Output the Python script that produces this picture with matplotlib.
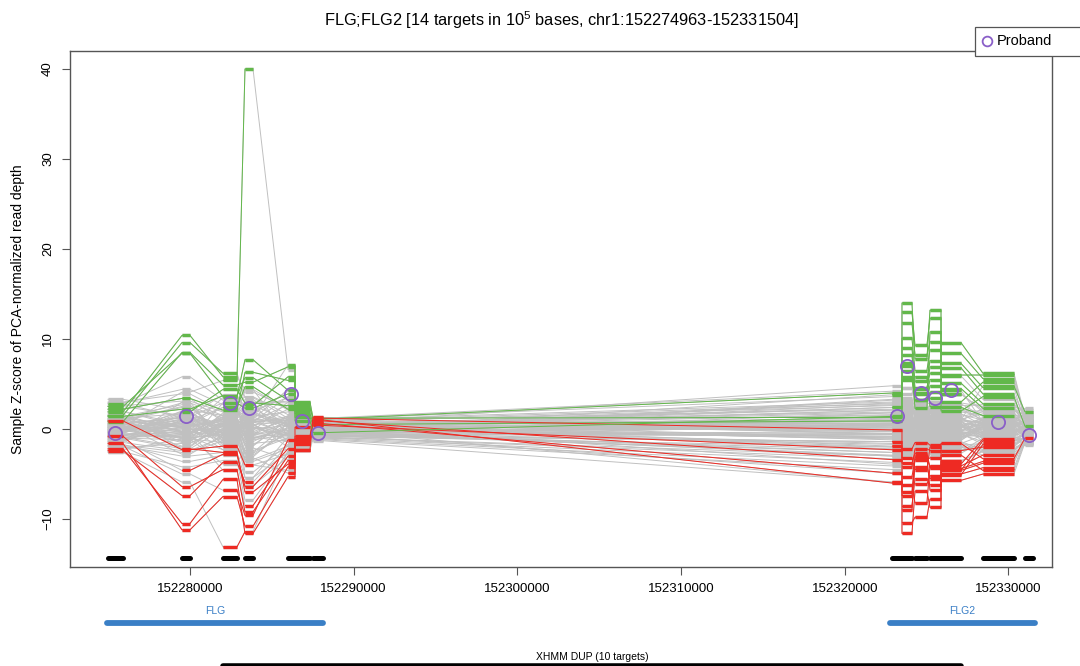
#%% Initializing
import numpy as np
import matplotlib
matplotlib.use('Agg')
import matplotlib.pyplot as plt
from matplotlib.patches import Rectangle
from matplotlib.ticker import FuncFormatter

plt.rcParams['font.family'] = ['Liberation Sans', 'DejaVu Sans']
plt.rcParams['mathtext.fontset'] = 'custom'
plt.rcParams['mathtext.rm'] = 'Liberation Sans'

#%% Data
region = 'chr1:152274963-152331504'
target_start = [152274963, 152279510, 152282015, 152283360, 152285985, 152286415, 152287515,
                152322885, 152323495, 152324290, 152325205, 152325880, 152328440, 152331010]
target_end = [152275905, 152280000, 152282870, 152283850, 152286415, 152287330, 152288125,
              152323495, 152324105, 152325020, 152325880, 152327100, 152330335, 152331504]

gene_names = ['FLG', 'FLG2']
gene_start = [152274930, 152322760]
gene_end = [152288125, 152331620]

# proband, with its XHMM DUP call (target index range)
proband_z = [-0.4, 1.4, 2.9, 2.3, 3.9, 0.9, -0.4, 1.4, 7.0, 4.0, 3.4, 4.3, 0.8, -0.7]
cnv_type = 'DUP'
cnv_first = 2
cnv_last = 11

# samples without calls
gray_z = [
    [3.3, 2.1, 1.5, 2.8, 3.1, 1.2, 0.6, 4.8, 2.5, 1.8, 2.2, 1.4, 1.9, 2.3],
    [2.8, 5.8, 3.2, 4.1, 2.4, 2.0, 1.1, 3.6, 1.9, 2.6, 1.1, 2.2, 1.0, 1.7],
    [2.2, 3.4, 0.8, 1.7, 4.2, 2.6, 0.9, 2.8, 3.1, 0.7, 2.4, 0.9, 2.3, 1.1],
    [1.9, 0.6, 2.4, -0.5, 1.3, 0.4, 0.3, 2.1, 0.5, 1.4, -0.3, 1.7, 0.4, 0.8],
    [1.4, 2.7, -1.1, 3.3, 0.2, 1.6, 0.7, 1.5, 2.3, -0.6, 1.5, 0.3, 1.2, 0.5],
    [1.0, -1.4, 1.8, 0.9, 2.7, -0.7, 0.1, 0.9, -0.8, 2.1, 0.6, -0.4, -0.2, 0.2],
    [0.7, 1.2, 0.3, -2.4, -1.0, 0.9, -0.2, 0.4, 1.3, 0.2, -1.1, 1.0, 0.7, -0.1],
    [0.4, -2.8, -0.7, 1.4, 1.9, -1.3, 0.5, -0.3, -1.6, -0.9, 0.8, -0.9, -0.6, 0.6],
    [0.1, 0.3, 1.1, -3.6, -2.2, 0.2, -0.5, -0.8, 0.6, -1.5, -0.4, 0.5, -1.1, -0.4],
    [-0.2, -0.9, -2.3, 0.5, 0.8, -0.4, -0.8, -1.4, -0.3, 0.9, -1.7, -1.2, 0.1, -0.7],
    [-0.5, 1.8, -0.2, -1.2, -0.6, 1.1, 0.2, -2.0, -2.2, -0.2, 0.3, -1.8, -1.6, -0.9],
    [-0.9, -2.0, 0.6, -4.8, -1.7, -1.1, -0.3, -2.6, 0.1, -1.9, -2.3, -0.6, -0.9, -1.2],
    [-1.3, 0.9, -1.6, 2.2, 0.5, -1.8, -0.9, -3.3, -1.0, -2.4, -0.8, -2.3, -2.1, -1.5],
    [-1.7, -3.6, -2.9, -6.3, -3.1, -0.9, -1.1, -4.1, -2.7, -1.1, -2.8, -1.5, -2.6, -1.8],
    [-2.1, -1.6, 0.1, -2.9, -0.3, -2.3, -0.6, -4.9, -1.9, -2.9, -1.4, -2.7, -1.3, -1.0],
    [-2.5, -4.2, -3.5, -7.9, -2.6, -1.5, -1.3, -5.9, -3.0, -2.2, -3.1, -2.0, -2.9, -1.6],
    [2.9, 4.4, 2.7, 3.6, 1.6, 2.4, 1.0, 3.0, 4.6, 2.9, 1.8, 2.6, 2.7, 1.9],
    [2.5, 1.5, 3.8, 2.0, 3.5, 0.7, 0.4, 1.8, 2.9, 1.2, 2.9, 1.9, 1.5, 1.4],
    [1.6, -0.3, 1.3, 4.4, -0.8, 1.9, 0.8, 0.6, 1.7, 2.4, 0.2, 2.5, 0.9, 0.3],
    [0.9, 2.4, -0.5, 0.3, 2.2, -0.2, -0.1, 1.1, -0.5, 0.5, 1.9, 0.7, 0.3, 1.0],
    [0.2, -1.9, 0.9, -0.9, -1.4, 0.6, 0.3, -0.1, 0.9, -0.4, -0.6, -0.1, 0.8, -0.3],
    [-0.3, 0.5, -1.2, 1.0, 0.9, -0.8, -0.4, -1.7, -1.2, 1.1, 0.4, -0.8, -0.4, 0.1],
    [-0.7, -0.7, 0.4, -1.6, -1.2, 0.5, -0.2, 0.2, 0.3, -1.3, -1.2, 0.6, -1.4, -0.6],
    [-1.1, 1.0, -2.0, -3.1, 0.3, -1.6, -0.6, -2.3, -0.7, -0.7, -2.0, -1.0, 0.4, -1.1],
    [-1.5, -2.4, -0.9, 0.6, -2.0, 0.0, -1.0, -3.7, -1.4, -2.6, -0.3, -2.1, -1.9, -0.8],
    [-1.9, -3.0, -2.6, -5.4, -0.9, -2.0, -0.4, -2.9, -2.5, -1.7, -2.5, -1.4, -2.3, -1.4],
    [-2.3, -1.1, -3.9, -2.1, -3.4, -1.2, -1.2, -4.5, -1.6, -2.0, -1.6, -2.5, -1.0, -1.7],
    [3.0, 3.9, 2.0, 1.1, 4.4, 2.9, 1.2, 4.2, 3.4, 2.3, 2.6, 2.9, 2.5, 2.1],
    [2.0, 0.2, 3.5, 2.6, 1.0, 1.4, 0.5, 2.4, 2.0, 1.6, 1.4, 1.1, 1.7, 0.9],
    [1.2, 1.7, -1.8, -0.2, 3.0, 0.1, 0.0, 1.3, 0.8, 0.1, 2.1, 0.1, 0.6, 0.4],
    [-0.1, -0.5, 1.6, 1.8, -0.2, -0.5, 0.1, 0.7, -0.2, 0.6, -0.9, 1.3, -0.1, -0.2],
    [-0.6, 0.0, -0.3, -4.0, -2.8, 0.8, -0.7, -0.6, 1.1, -0.9, 0.9, -0.3, 1.1, -0.5],
    [-1.0, -1.2, 2.9, -0.7, 1.5, -1.0, 0.4, -1.2, -1.8, -1.4, -0.5, -1.6, -0.7, 0.0],
    [-1.4, 3.0, -1.4, 2.9, -1.5, -1.4, -0.8, -2.0, 0.4, 0.3, -1.5, -0.5, -1.7, -1.0],
    [1.7, -2.2, 0.0, -2.6, 0.6, 1.0, 0.6, 0.0, -0.9, -0.1, 0.1, -0.7, 0.2, 0.7],
    [0.5, 1.3, -0.8, 0.8, -0.5, 0.3, -0.3, 3.3, 1.5, 0.9, 1.0, 0.4, -0.5, -0.8],
    [2.6, 3.1, 1.9, 3.0, 2.9, 1.8, 0.8, 2.6, 2.2, 1.3, 1.7, 2.0, 2.0, 1.6],
    [-1.8, -2.6, -1.3, -3.4, -1.9, -1.7, -0.9, -3.0, -2.0, -1.8, -2.2, -1.9, -2.4, -1.3],
    [0.6, -0.4, 0.7, -1.9, 1.1, -0.3, 0.2, 0.5, -0.4, 1.0, 0.0, 0.2, -0.3, 0.2],
    [-0.4, 2.0, -0.6, 0.1, -0.7, 0.6, -0.1, -1.0, 0.7, -0.5, 0.6, -0.2, 0.5, -0.3],
]

# samples with duplication calls; called targets dup_first..dup_last
dup_z = [
    [1.9, 10.4, 5.8, 4.4, 2.1, 1.5, 0.6, 1.0, 0.3, -0.4, 0.9, 0.2, 1.3, 0.4],
    [1.5, 9.6, 6.2, 3.5, 1.2, 0.4, 0.2, 0.4, -0.6, 0.8, 1.1, -0.7, 0.5, 0.9],
    [0.8, 8.5, 4.9, 5.2, 6.9, 2.8, 0.9, 2.2, 1.4, -1.1, 0.6, 1.2, -0.3, -0.2],
    [2.5, 8.4, 3.6, 7.7, 4.3, 1.9, 0.3, -0.9, 1.8, 0.3, -0.8, 0.8, 0.9, 0.3],
    [0.3, 4.1, 5.4, 40.0, 6.6, 1.0, 0.1, 0.6, -1.3, 1.0, 0.4, -0.3, 0.2, -0.4],
    [2.2, 3.4, 2.1, 6.3, 5.4, 2.4, 1.1, 4.0, 2.6, 1.7, 2.0, 1.6, 1.0, 0.8],
    [1.1, 2.9, 1.5, 1.2, 7.1, 3.0, 1.2, 1.3, 5.5, 3.2, 4.8, 3.9, 2.1, 0.9],
    [0.0, 1.9, 4.4, 2.9, 2.6, 2.2, 0.4, -0.2, 0.7, -0.5, 1.2, 0.6, -0.8, 0.1],
    [1.4, 2.2, 3.7, 5.7, 3.2, 1.7, 0.7, 0.8, -0.2, 1.5, -0.4, 1.1, 0.6, 0.2],
    [-0.1, 1.0, 2.4, 4.7, 2.2, 1.3, 0.5, 0.9, 2.5, 1.8, 1.3, 2.8, 1.4, 0.6],
    [1.0, 2.5, 1.2, 2.6, 5.8, 2.0, 0.9, -0.5, 1.0, 0.2, -0.9, 0.4, 0.9, -0.1],
    [2.8, 1.3, 0.3, 0.8, 3.6, 1.2, 0.3, 0.2, 1.2, -1.0, 0.5, -0.5, -0.4, 0.5],
    [0.5, -0.6, 1.1, 0.4, -0.7, 0.3, 0.2, 2.4, 14.0, 7.8, 13.2, 9.6, 6.2, 1.4],
    [-0.8, 0.7, -0.5, 1.6, 0.9, -0.3, -0.4, 3.2, 13.0, 9.3, 12.3, 8.4, 5.6, 1.0],
    [1.2, 0.4, 0.8, -1.0, 0.1, 0.9, 0.6, 1.9, 11.8, 8.2, 9.7, 7.3, 4.6, 0.6],
    [0.1, -1.5, -0.2, 0.7, 1.4, -0.6, -0.1, 3.8, 10.1, 6.5, 8.8, 6.8, 3.9, 1.2],
    [-0.4, 1.6, 0.5, -0.9, -0.5, 0.5, 0.0, 2.7, 9.0, 5.3, 7.6, 5.9, 3.3, 0.2],
    [0.6, -0.2, -1.3, 1.9, 0.4, 0.1, -0.2, 0.9, 8.2, 4.6, 6.2, 5.1, 2.8, -0.3],
    [-1.2, 0.2, 0.9, -0.3, -1.1, -0.7, 0.3, 1.6, 6.5, 3.9, 5.5, 4.5, 2.3, 0.8],
    [0.9, -1.0, -0.6, 1.1, 0.7, 0.6, -0.5, 0.4, 5.8, 3.2, 4.1, 3.9, 1.9, 0.1],
    [-0.3, 1.1, 0.2, -1.8, 1.0, -0.2, 0.1, 2.1, 4.6, 2.7, 3.0, 3.0, 5.2, 1.5],
    [0.2, 0.6, -0.9, 0.2, -0.2, 0.8, 0.4, 1.2, 3.9, 5.8, 2.5, 2.4, 1.5, 0.5],
    [-0.6, -0.4, 1.4, 0.9, 0.6, -0.4, -0.3, 0.5, 3.0, 1.9, 1.4, 1.0, 4.8, 1.9],
    [1.3, 0.1, -0.1, -0.6, -0.9, 0.2, 0.2, 2.9, 2.2, 4.4, 6.9, 2.0, 3.6, 0.3],
    [-0.9, -0.8, 0.6, 1.3, 0.3, 1.1, -0.6, 1.8, 7.3, 2.3, 10.8, 6.0, 6.0, 1.1],
]
dup_first = [0, 0, 0, 0, 2, 0, 4, 1, 0, 2, 3, 0, 7, 8, 8, 7, 8, 8, 8, 8, 11, 9, 12, 9, 8]
dup_last = [2, 2, 5, 4, 3, 7, 11, 5, 6, 7, 5, 0, 12, 12, 12, 12, 11, 12, 12, 11, 12, 12, 13, 13, 12]

# samples with deletion calls
del_z = [
    [-1.6, -11.2, -7.5, -10.8, -4.2, -1.9, -0.6, -0.3, 0.8, -0.9, 0.4, -0.2, 0.7, -0.3],
    [-2.2, -10.5, -5.6, -11.6, -5.3, -2.3, -1.1, 0.6, -0.5, 1.2, -0.7, 0.9, -0.6, 0.4],
    [-0.8, -6.4, -4.5, -9.2, -3.5, -1.5, 0.7, -1.0, 0.2, -0.3, 1.1, -1.1, 0.3, -0.8],
    [-2.6, -5.9, -13.1, -11.4, -2.4, -0.6, -0.2, 0.1, -1.4, 0.6, -0.2, 0.4, -1.0, 0.0],
    [-1.2, -4.6, -2.8, -6.4, -2.2, -0.8, 1.3, -0.6, 0.5, -1.6, 0.9, -0.5, 0.0, -0.6],
    [0.9, -2.3, -1.9, -4.0, -4.6, -2.0, -0.3, 0.4, -0.9, 0.2, -1.3, 0.3, -0.5, 0.3],
    [-1.9, -5.0, -6.8, -9.6, -1.2, -1.1, 0.9, -3.4, -0.8, 0.9, -0.6, -1.3, 0.6, -0.2],
    [0.2, -0.3, -4.6, -8.5, -3.0, 0.2, 0.4, -2.3, 1.0, -0.4, 0.2, 0.8, -0.9, 0.5],
    [-0.5, -1.0, -0.4, -5.4, -2.6, -2.3, 1.0, -6.0, -1.7, -0.8, -1.9, -0.6, -1.4, -0.9],
    [1.0, 0.1, -2.3, -3.2, -4.9, -1.3, 0.6, -4.9, -7.0, -3.2, -4.2, -3.6, -2.4, -1.4],
    [-0.3, 0.8, -1.0, -2.7, -0.4, -0.9, 1.2, -0.1, -3.2, -4.5, -2.0, -4.6, -1.3, -0.5],
    [-2.4, -7.4, -3.7, -5.9, -1.8, -0.4, 0.1, 0.9, -0.2, 0.3, -0.8, 0.2, 1.0, 0.4],
    [-1.0, -2.2, -2.6, -7.0, -3.9, -1.7, -0.5, 0.3, 0.6, -0.7, 0.1, -0.9, 0.2, -0.1],
    [0.4, -0.9, 0.3, -1.4, 0.5, 0.6, -0.1, -5.9, -11.6, -6.9, -8.7, -5.7, -5.0, -1.5],
    [-0.7, 0.5, 1.0, 0.2, -0.8, -0.2, 0.3, -3.9, -10.4, -9.8, -7.8, -5.0, -4.3, -1.2],
    [1.1, -0.3, -0.7, 0.8, 1.2, 0.4, -0.6, -2.6, -8.6, -5.5, -6.2, -4.6, -3.8, -0.8],
    [-0.2, 1.4, 0.5, -0.5, -0.3, -0.9, 0.5, -1.9, -7.4, -4.2, -5.5, -4.1, -2.9, -1.6],
    [0.6, -1.1, -1.5, 1.7, 0.2, 1.0, -0.3, -3.0, -6.2, -8.2, -4.1, -3.5, -2.5, -1.1],
    [-1.4, 0.9, 0.1, -0.8, 0.8, -0.5, 0.2, -1.1, -5.3, -3.4, -3.2, -2.9, -4.6, -1.4],
    [0.3, 0.0, -0.4, 0.5, -1.5, 0.7, -0.4, -0.5, -4.2, -2.2, -2.4, -2.4, -2.0, -0.9],
    [-0.9, -0.6, 1.2, -1.1, 0.0, -0.1, 0.0, -1.6, -3.1, -6.1, -5.2, -5.1, -1.7, -1.3],
    [0.8, 0.3, -1.0, 0.0, 0.4, 0.3, -0.2, -0.8, -2.2, -1.5, -1.8, -1.6, -3.3, -1.0],
    [-0.1, -1.3, 0.7, 1.0, -0.6, -0.6, 0.4, -2.2, -9.0, -3.0, -6.8, -3.9, -1.1, -0.6],
    [0.0, 1.1, -0.2, -0.3, 1.1, 0.0, -0.7, -1.4, -3.8, -2.7, -4.3, -4.4, -3.6, -1.3],
]
del_first = [0, 0, 0, 2, 1, 0, 2, 3, 5, 4, 6, 0, 1, 7, 8, 8, 7, 8, 8, 8, 9, 8, 8, 7]
del_last = [4, 5, 6, 3, 6, 3, 7, 7, 7, 11, 12, 3, 5, 12, 12, 12, 12, 11, 12, 12, 12, 13, 12, 12]

#%% Colours
GRAY = '#c0c0c0'
GREEN = '#62b84a'
RED = '#ee2a23'
PURPLE = '#8a5fc8'
GENE_BLUE = '#3a7fc6'


def draw_sample(ax, z, first, last, color, z0):
    xs, ys = [], []
    for i in range(first, last + 1):
        xs += [target_start[i], target_end[i]]
        ys += [z[i], z[i]]
    ax.plot(xs, ys, color=color, lw=0.7, zorder=z0, solid_capstyle='butt')
    ax.hlines(z[first:last + 1], target_start[first:last + 1], target_end[first:last + 1],
              color=color, lw=2.4, zorder=z0 + 0.5)


#%% Plot
fig = plt.figure(figsize=(10.8, 6.66), dpi=100)
ax = fig.add_axes([70 / 1080, 1 - 567 / 666, 982 / 1080, 516 / 666])

n = len(target_start)
for z in gray_z + dup_z + del_z + [proband_z]:
    draw_sample(ax, z, 0, n - 1, GRAY, 1)
for z, a, b in zip(dup_z, dup_first, dup_last):
    draw_sample(ax, z, a, b, GREEN, 3)
for z, a, b in zip(del_z, del_first, del_last):
    draw_sample(ax, z, a, b, RED, 3)
draw_sample(ax, proband_z, cnv_first, cnv_last, GREEN if cnv_type == 'DUP' else RED, 3)

mid = [(s + e) / 2 for s, e in zip(target_start, target_end)]
ax.plot(mid, proband_z, 'o', ls='none', ms=9.5, mfc='none', mec=PURPLE, mew=1.3, zorder=6)

# target positions along the bottom
for s, e in zip(target_start, target_end):
    ax.plot([s, e], [-14.3, -14.3], color='black', lw=3.6, solid_capstyle='round', zorder=5)

ax.set_xlim(152272670, 152332660)
ax.set_ylim(-15.33, 42.0)
ax.set_xticks(np.arange(152280000, 152330001, 10000))
ax.set_yticks([-10, 0, 10, 20, 30, 40])
ax.xaxis.set_major_formatter(FuncFormatter(lambda v, p: f'{int(v)}'))
for sp in ax.spines.values():
    sp.set_color('#555555')
    sp.set_linewidth(1.0)
ax.tick_params(axis='both', colors='#555555', labelcolor='black', length=5.5, width=0.8,
               labelsize=9.5)
ax.tick_params(axis='x', pad=6)
ax.tick_params(axis='y', pad=6)
for lab in ax.get_yticklabels():
    lab.set_rotation(90)
    lab.set_va('center')
ax.set_ylabel('Sample Z-score of PCA-normalized read depth', fontsize=10, labelpad=12)
ax.set_title(f'FLG;FLG2 [{n} targets in 10$^5$ bases, {region}]', fontsize=11.8, pad=18)

# legend box drawn in pixel positions, running off the right edge like the original
fig.patches.append(Rectangle((975 / 1080, 1 - 56 / 666), 120 / 1080, 29 / 666,
                             transform=fig.transFigure, facecolor='white',
                             edgecolor='#555555', lw=0.9, zorder=10))
fig.lines.append(plt.Line2D([987 / 1080], [1 - 41 / 666], transform=fig.transFigure,
                            marker='o', ms=7, mfc='none', mec=PURPLE, mew=1.3, zorder=11))
fig.text(997 / 1080, 1 - 41 / 666, 'Proband', fontsize=10.5, va='center', ha='left', zorder=11)

#%% Gene track and CNV call below the axis (y in pixels from the top)
gax = fig.add_axes([70 / 1080, 0, 982 / 1080, 100 / 666])
gax.set_xlim(ax.get_xlim())
gax.set_ylim(666, 566)
gax.axis('off')
for name, s, e in zip(gene_names, gene_start, gene_end):
    gax.plot([s, e], [623, 623], color=GENE_BLUE, lw=4.2, solid_capstyle='round')
    gax.text((s + e) / 2, 611, name, color=GENE_BLUE, fontsize=7.5, ha='center', va='center')

cs, ce = target_start[cnv_first], target_end[cnv_last]
gax.text((cs + ce) / 2, 657, f'XHMM {cnv_type} ({cnv_last - cnv_first + 1} targets)',
         fontsize=7.5, ha='center', va='center')
gax.plot([cs, ce], [665.5, 665.5], color='black', lw=4, solid_capstyle='round', clip_on=False)

fig.savefig('out.png', dpi=100)
